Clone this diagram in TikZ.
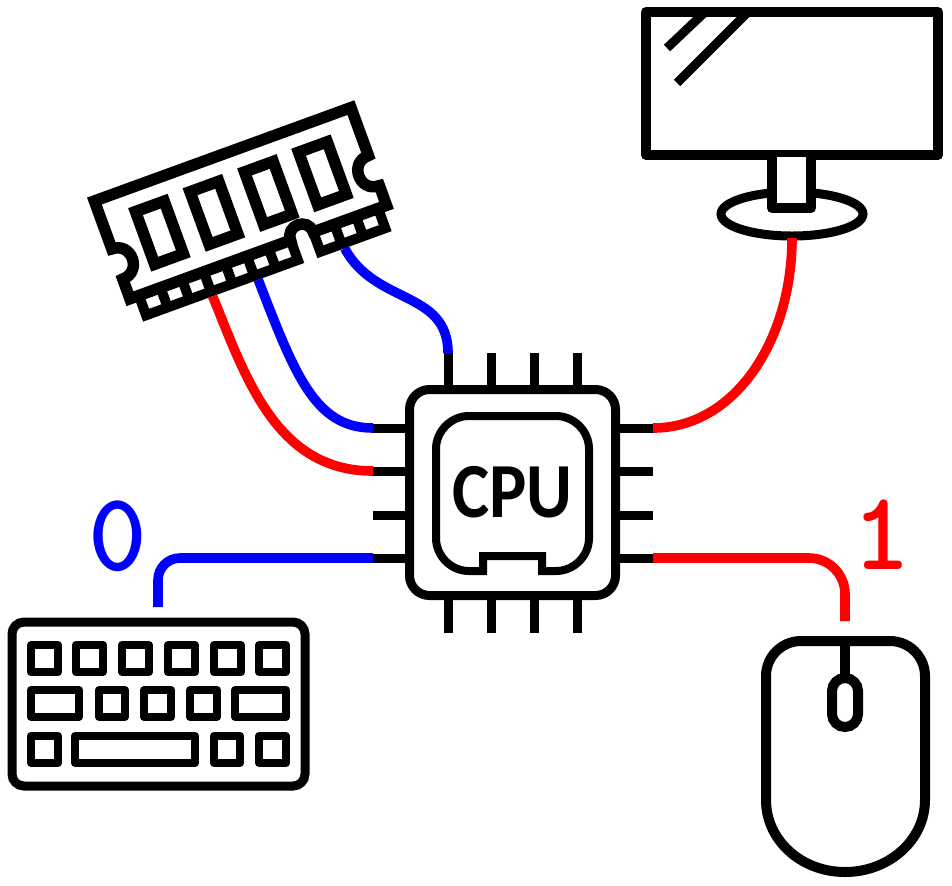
\documentclass[tikz,border=0pt]{standalone}
\usepackage{fontspec}
\usetikzlibrary{positioning}
\newfontfamily\cpufont{Carlito}

\tikzset{
  part/.style = {draw = black, line width = 4.5pt},
  ram_part/.style = {part, line width = 5.75pt},
  slot_part/.style = {part, line width = 5pt},
  thin_part/.style = {part, line width = 4pt, line join = round},
  wire_zero/.style = {draw = blue, line width = 4.8pt},
  wire_one/.style = {draw = red, line width = 4.8pt},
  digit/.style = {font = \fontsize{56}{56}\selectfont\ttfamily\bfseries, inner sep = 0pt},
}

\begin{document}
\begin{tikzpicture}[x = 0.5pt, y = -0.5pt]
  \useasboundingbox (0,0) rectangle (952,885);

  % Define cpu
  \node [part, rounded corners = 10pt, minimum size = 103pt, inner sep = 0pt,
         font = \fontsize{39}{39}\selectfont\cpufont\bfseries] (cpu) at (512.5,492.5) {\scalebox{0.9}[1]{CPU}};
  \draw [thin_part, line join = miter] (483,556) -- (542,556) -- (542,571) -- (556,571)
    .. controls (574,571) and (589,556) .. (589,538) -- (589,449)
    .. controls (589,431) and (574,416) .. (556,416) -- (469,416)
    .. controls (451,416) and (436,431) .. (436,449) -- (436,538)
    .. controls (436,556) and (451,571) .. (469,571) -- (483,571) -- cycle;

  \foreach \pinx [count = \i] in {448,491,534,577} {
    \coordinate (pin_t\i) at (\pinx,353);
    \coordinate (pin_b\i) at (\pinx,633);
    \draw [part] (pin_t\i) -- (\pinx,387);
    \draw [part] (pin_b\i) -- (\pinx,598);
  }
  \foreach \piny [count = \i] in {428,471,515,558} {
    \coordinate (pin_l\i) at (373,\piny);
    \coordinate (pin_r\i) at (653,\piny);
    \draw [part] (pin_l\i) -- (407,\piny);
    \draw [part] (pin_r\i) -- (618,\piny);
  }

  % Define ram
  \begin{scope}[shift = {(94.4,201)}, rotate = 20]
    \draw [ram_part] (0,0) -- (273,0) -- (273,51)
      .. controls (251.7,51) and (251.7,83) .. (273,83) -- (273,104) -- (195,104)
      .. controls (195,88) and (171,88) .. (171,104) -- (0,104) -- (0,83)
      .. controls (21.3,83) and (21.3,51) .. (0,51) -- cycle;
    \draw [slot_part] (171,104) -- (171,125) -- (9.5,125) -- (9.5,104);
    \draw [slot_part] (195,104) -- (195,125) -- (264,125) -- (264,104);
    \foreach \slotx in {32.5,55.5,78.5,101.5,124.5,147.5,217.5,240.5}
      \draw [slot_part] (\slotx,104) -- (\slotx,125);
    \foreach \chipx in {35,93,151,208.5}
      \draw [ram_part] (\chipx,24) rectangle ++(30.5,56);
    \coordinate (ram_a) at (78.5,130);
    \coordinate (ram_b) at (127,130);
    \coordinate (ram_c) at (219,130);
  \end{scope}

  % Define monitor
  \draw [part, line width = 5pt, line join = round] (646,12) rectangle (938,155);
  \draw [part] (705,12) -- (667,48);
  \draw [part] (748,12) -- (677,83);
  \draw [part] (792,214) ellipse [x radius = 35.5pt, y radius = 11pt];
  \draw [part, line width = 5pt, line join = round, fill = white] (772,157) -- (772,208) -- (811,208) -- (811,157);
  \coordinate (monitor_in) at (792,238);

  % Define keyboard
  \draw [part, rounded corners = 6pt] (12,622) rectangle (305,786);
  \foreach \keyx/\keyw in {31/27,76/27,122/27,168/27,214/27,259/27}
    \draw [thin_part] (\keyx,645) rectangle ++(\keyw,27);
  \foreach \keyx/\keyw in {31/48,99/26,144/27,190/27,235/51}
    \draw [thin_part] (\keyx,690) rectangle ++(\keyw,27);
  \foreach \keyx/\keyw in {31/27,75/120,214/26,259/27}
    \draw [thin_part] (\keyx,736) rectangle ++(\keyw,27);
  \coordinate (kbd_in) at (158,607);

  % Define mouse
  \draw [part, line width = 5pt] (766,800) [rounded corners = 17.5pt] -- (766,641) -- (925,641) [sharp corners] -- (925,800)
    .. controls (925,840) and (889,872) .. (845,872)
    .. controls (801,872) and (766,840) .. (766,800) -- cycle;
  \draw [part, line width = 5pt, rounded corners = 6.5pt] (832,678) rectangle (858,727);
  \draw [part, line width = 5pt] (845,641) -- (845,678);
  \coordinate (mouse_in) at (845,621);

  % Define labels
  \node [digit, text = blue, above left = 17.5pt and 5pt of kbd_in] (zero) {0};
  \node [digit, text = red, above right = 25.5pt and 3.5pt of mouse_in] (one) {1};

  % Draw wires
  \draw [wire_one] (ram_a) .. controls (245,375) and (275,471) .. (pin_l2);
  \draw [wire_zero] (ram_b) .. controls (295,375) and (315,428) .. (pin_l1);
  \draw [wire_zero] (ram_c) .. controls (375,305) and (448,290) .. (pin_t1);
  \draw [wire_one] (monitor_in) .. controls (792,340) and (735,428) .. (pin_r1);
  \draw [wire_zero, rounded corners = 11pt] (kbd_in) -- (158,558) -- (pin_l4);
  \draw [wire_one, rounded corners = 18pt] (pin_r4) -- (845,558) -- (mouse_in);
\end{tikzpicture}
\end{document}
